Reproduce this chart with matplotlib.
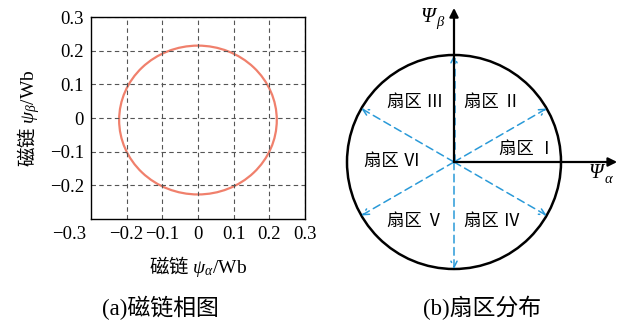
import numpy as np
import matplotlib.pyplot as plt
from matplotlib.patches import Ellipse, Circle

plt.rcParams['font.family'] = ['Liberation Serif', 'Noto Sans CJK SC']
plt.rcParams['mathtext.fontset'] = 'custom'
plt.rcParams['mathtext.rm'] = 'Noto Sans CJK SC'
plt.rcParams['mathtext.it'] = 'Liberation Serif:italic'
plt.rcParams['mathtext.default'] = 'it'

# 磁链轨迹（圆）参数
flux_center = (0.0, -0.006)
flux_radius = 0.221
ticks = [-0.2, -0.1, 0, 0.1, 0.2, 0.3]
tick_labels = ['\u22120.2', '\u22120.1', '0', '0.1', '0.2', '0.3']

# 扇区
sector_angles = [30, 90, 150, 210, 270, 330]
sector_names = ['扇区 Ⅰ', '扇区 Ⅱ', '扇区 Ⅲ', '扇区 Ⅵ', '扇区 Ⅴ', '扇区 Ⅳ']
sector_pos = [(0.68, 0.11), (0.36, 0.55), (-0.36, 0.55), (-0.58, 0.0), (-0.36, -0.56), (0.36, -0.56)]

fig = plt.figure(figsize=(6.23, 3.24), dpi=100)

# (a) 磁链相图
ax = fig.add_axes([0.146, 0.324, 0.3435, 0.6235])
ax.add_patch(Ellipse(flux_center, 2 * flux_radius, 2 * flux_radius, fill=False,
                     edgecolor='#f0806c', lw=1.6))
ax.set_xlim(-0.3, 0.3)
ax.set_ylim(-0.3, 0.3)
ax.set_xticks(ticks)
ax.set_xticklabels(tick_labels)
ax.set_yticks(ticks)
ax.set_yticklabels(tick_labels)
ax.tick_params(length=0, labelsize=13.5, pad=5)
ax.grid(True, ls=(0, (4, 3)), color='#555555', lw=0.8)
for s in ax.spines.values():
    s.set_linewidth(1.0)
ax.text(-0.02, -0.075, '\u22120.3', transform=ax.transAxes, ha='right', va='center', fontsize=13.5)
ax.set_xlabel('$\\mathrm{磁链}\\ \\psi_{\\alpha}$/Wb', fontsize=14, labelpad=8)
ax.set_ylabel('$\\mathrm{磁链}\\ \\psi_{\\beta}$/Wb', fontsize=14, labelpad=6)
fig.text(160 / 623, 1 - 308 / 324, '(a)磁链相图', ha='center', va='center', fontsize=16.5)

# (b) 扇区分布
r_px = 107.0
cx, cy = 454.0, 162.0
ax2 = fig.add_axes([330 / 623, 0.0, 293 / 623, 1.0])
ax2.set_xlim((330 - cx) / r_px, (623 - cx) / r_px)
ax2.set_ylim((cy - 324) / r_px, cy / r_px)
ax2.axis('off')
ax2.add_patch(Circle((0, 0), 1.0, fill=False, edgecolor='black', lw=1.8))

blue = '#2a9ad8'
for a in sector_angles:
    t = np.deg2rad(a)
    ax2.annotate('', xy=(np.cos(t), np.sin(t)), xytext=(0, 0),
                 arrowprops=dict(arrowstyle='->', color=blue, lw=1.1, ls=(0, (5, 3)),
                                 shrinkA=0, shrinkB=0, mutation_scale=11))

ax2.annotate('', xy=(0, 1.44), xytext=(0, 0),
             arrowprops=dict(arrowstyle='-|>', color='black', lw=1.6, shrinkA=0, shrinkB=0,
                             mutation_scale=13))
ax2.annotate('', xy=(1.525, 0), xytext=(0, 0),
             arrowprops=dict(arrowstyle='-|>', color='black', lw=1.6, shrinkA=0, shrinkB=0,
                             mutation_scale=13))
ax2.plot([0.012, 0.012], [0, 0.97], color=blue, lw=1.1, ls=(0, (5, 3)))

# 坐标轴标注 Ψβ, Ψα
for (px, py), sub in [((428, 17), 'β'), ((596, 174), 'α')]:
    x0, y0 = (px - cx) / r_px, (cy - py) / r_px
    ax2.text(x0, y0, 'Ψ', ha='center', va='center', fontsize=15, style='italic',
             family='Liberation Serif')
    ax2.annotate(sub, xy=(x0, y0), xytext=(6, -4), textcoords='offset points',
                 ha='left', va='center', fontsize=10.5, style='italic', family='Liberation Serif')

for name, (x, y) in zip(sector_names, sector_pos):
    ax2.text(x, y, name, ha='center', va='center', fontsize=12.5)

fig.text(482 / 623, 1 - 308 / 324, '(b)扇区分布', ha='center', va='center', fontsize=16.5)

fig.savefig('out.png', dpi=100)
